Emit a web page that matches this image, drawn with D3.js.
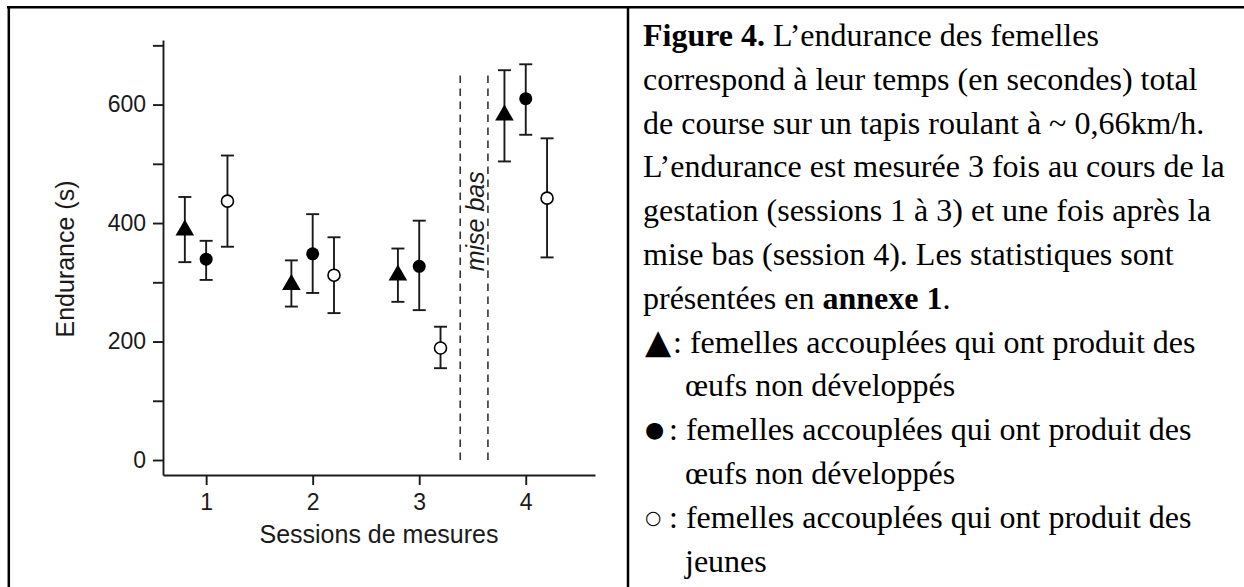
<!DOCTYPE html>
<html>
<head>
<meta charset="utf-8">
<script src="https://cdn.jsdelivr.net/npm/d3@7"></script>
<style>
  body { margin: 0; background: #fff; }
  svg { display: block; }
</style>
</head>
<body>
<svg width="1244" height="587"></svg>
<script>
// data
const sessions = [1, 2, 3, 4];
const triMean = [388, 296, 312, 582];
const triLow = [334, 259, 267, 504];
const triHigh = [444, 337, 357, 658];
const fillMean = [339, 348, 327, 610];
const fillLow = [304, 282, 253, 549];
const fillHigh = [370, 415, 404, 668];
const openMean = [437, 312, 189, 442];
const openLow = [360, 248, 155, 342];
const openHigh = [514, 376, 225, 543];
const yTicks = [0, 100, 200, 300, 400, 500, 600, 700];
const miseBas = [3.385, 3.645];

const svg = d3.select("svg");
const ink = "#1a1a1a";

// frame of the table
svg.append("g").attr("stroke", "#000").attr("stroke-width", 2.5)
  .selectAll("line")
  .data([[7, 7.3, 1244, 7.3], [8.8, 6, 8.8, 587], [628, 6, 628, 587]])
  .join("line")
  .attr("x1", d => d[0]).attr("y1", d => d[1])
  .attr("x2", d => d[2]).attr("y2", d => d[3]);

// scales
const x = d3.scaleLinear().domain([0.595, 4.65]).range([163, 595]);
const y = d3.scaleLinear().domain([-25.3, 709]).range([475, 40]);

const chart = svg.append("g").attr("font-family", "'Liberation Sans', Arial, sans-serif");

// axes
const yAxis = chart.append("g")
  .attr("transform", `translate(${x.range()[0]},0)`)
  .call(d3.axisLeft(y).tickValues(yTicks)
    .tickFormat(d => d % 200 === 0 ? d : "")
    .tickSize(10).tickPadding(7).tickSizeOuter(0));
const xAxis = chart.append("g")
  .attr("transform", `translate(0,${y.range()[0]})`)
  .call(d3.axisBottom(x).tickValues(sessions).tickFormat(d3.format("d"))
    .tickSize(10).tickPadding(9).tickSizeOuter(0));
[yAxis, xAxis].forEach(a => {
  a.selectAll("path, line").attr("stroke", ink).attr("stroke-width", 1.9);
  a.selectAll("text").attr("font-size", 23).attr("fill", ink)
    .attr("font-family", "'Liberation Sans', Arial, sans-serif");
});

// axis titles
chart.append("text")
  .attr("transform", "translate(74,259) rotate(-90)")
  .attr("text-anchor", "middle").attr("font-size", 25).attr("fill", ink)
  .text("Endurance (s)");
chart.append("text")
  .attr("x", 379).attr("y", 543)
  .attr("text-anchor", "middle").attr("font-size", 25).attr("fill", ink)
  .text("Sessions de mesures");

// mise bas dashed lines
chart.append("g").selectAll("line")
  .data(miseBas).join("line")
  .attr("x1", d => x(d)).attr("x2", d => x(d))
  .attr("y1", y(0)).attr("y2", y(651))
  .attr("stroke", "#333").attr("stroke-width", 1.6)
  .attr("stroke-dasharray", "7.5,5.5");
chart.append("text")
  .attr("transform", `translate(${x(3.52) + 9},${y(403)}) rotate(-90)`)
  .attr("text-anchor", "middle").attr("font-size", 25)
  .attr("font-style", "italic").attr("fill", ink)
  .text("mise bas");

// series
const series = [
  { off: -0.2, mean: triMean, low: triLow, high: triHigh, kind: "tri" },
  { off: 0, mean: fillMean, low: fillLow, high: fillHigh, kind: "fill" },
  { off: 0.2, mean: openMean, low: openLow, high: openHigh, kind: "open" }
];

series.forEach(s => {
  const pts = sessions.map((d, i) => ({ x: d + s.off, m: s.mean[i], lo: s.low[i], hi: s.high[i] }));
  const g = chart.append("g");
  // error bars
  g.selectAll("line.bar").data(pts).join("line")
    .attr("x1", d => x(d.x)).attr("x2", d => x(d.x))
    .attr("y1", d => y(d.lo)).attr("y2", d => y(d.hi))
    .attr("stroke", ink).attr("stroke-width", 1.9);
  ["lo", "hi"].forEach(k => {
    g.selectAll("line.cap-" + k).data(pts).join("line")
      .attr("x1", d => x(d.x) - 6.5).attr("x2", d => x(d.x) + 6.5)
      .attr("y1", d => y(d[k])).attr("y2", d => y(d[k]))
      .attr("stroke", ink).attr("stroke-width", 1.9);
  });
  // markers
  if (s.kind === "tri") {
    g.selectAll("path.mk").data(pts).join("path")
      .attr("transform", d => `translate(${x(d.x)},${y(d.m)})`)
      .attr("d", d3.symbol(d3.symbolTriangle, 150))
      .attr("fill", "#000");
  } else {
    g.selectAll("circle.mk").data(pts).join("circle")
      .attr("cx", d => x(d.x)).attr("cy", d => y(d.m))
      .attr("r", s.kind === "fill" ? 6.5 : 6)
      .attr("fill", s.kind === "fill" ? "#000" : "#fff")
      .attr("stroke", "#000").attr("stroke-width", s.kind === "fill" ? 0 : 1.6);
  }
});

// caption text on the right
const caption = [
  [["Figure 4.", true], [" L’endurance des femelles", false]],
  [["correspond à leur temps (en secondes) total", false]],
  [["de course sur un tapis roulant à ~ 0,66km/h.", false]],
  [["L’endurance est mesurée 3 fois au cours de la", false]],
  [["gestation (sessions 1 à 3) et une fois après la", false]],
  [["mise bas (session 4). Les statistiques sont", false]],
  [["présentées en ", false], ["annexe 1", true], [".", false]]
];
const legendSymbols = ["▲", "●", "○"];
const legendFirst = [": femelles accouplées qui ont produit des",
  ": femelles accouplées qui ont produit des",
  ": femelles accouplées qui ont produit des"];
const legendSecond = ["œufs non développés", "œufs non développés", "jeunes"];

const txt = svg.append("g")
  .attr("font-family", "'Liberation Serif', 'Times New Roman', serif")
  .attr("font-size", 32).attr("fill", "#000");
const lineY = i => 46 + i * 43.8;

caption.forEach((parts, i) => {
  const t = txt.append("text").attr("x", 643).attr("y", lineY(i));
  parts.forEach(p => t.append("tspan").attr("font-weight", p[1] ? "bold" : null).text(p[0]));
});

const symSize = [34, 22, 19];
const symDy = [0, -3, -4];
legendSymbols.forEach((sym, j) => {
  const row = caption.length + j * 2;
  txt.append("text")
    .attr("x", 645).attr("y", lineY(row) + symDy[j])
    .attr("font-family", "'DejaVu Sans', sans-serif")
    .attr("font-size", symSize[j])
    .text(sym);
  txt.append("text")
    .attr("x", j === 0 ? 673 : 669).attr("y", lineY(row))
    .text(legendFirst[j]);
  txt.append("text")
    .attr("x", 685).attr("y", lineY(row + 1))
    .text(legendSecond[j]);
});
</script>
</body>
</html>
